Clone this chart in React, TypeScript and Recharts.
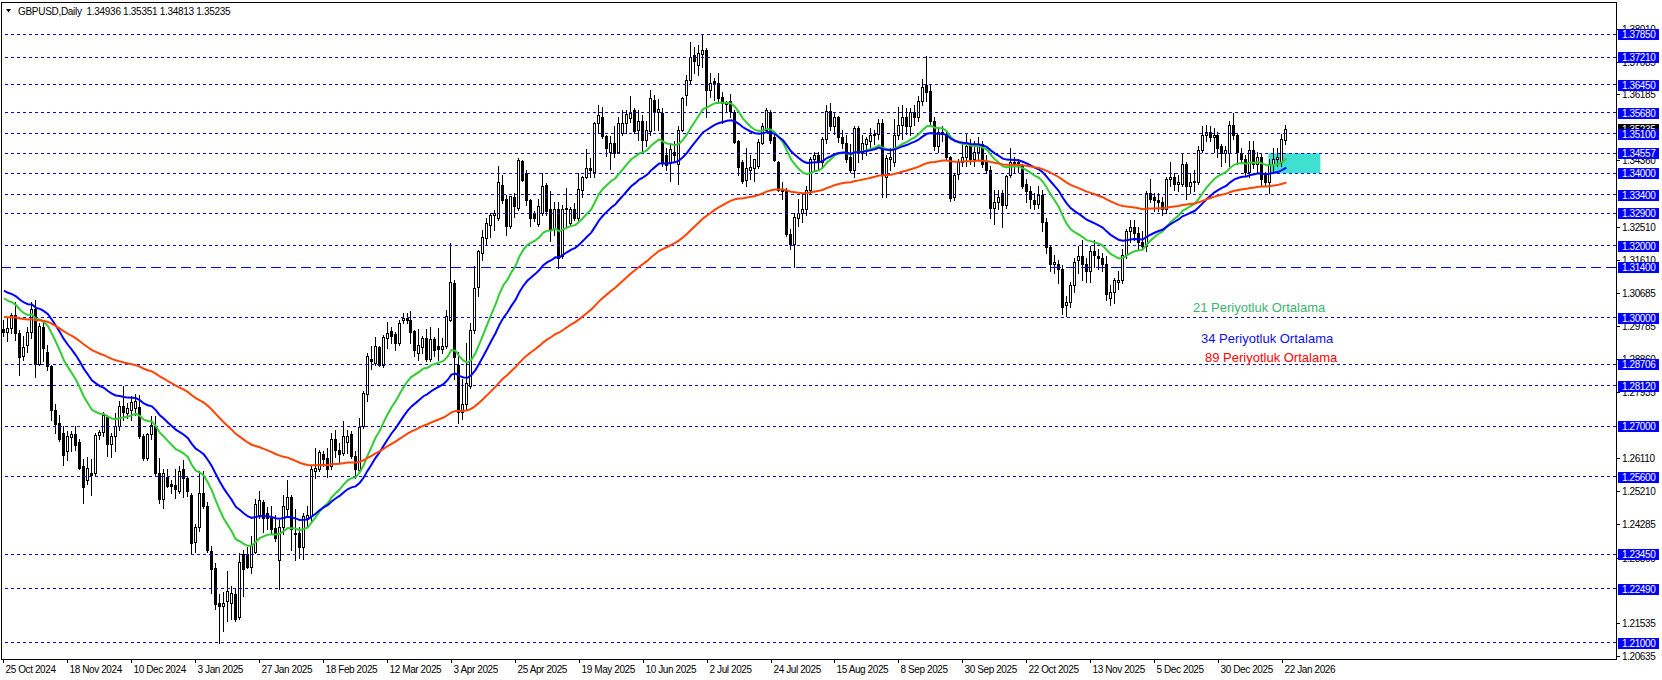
import React from "react";
import { ComposedChart, Bar, Line, XAxis, YAxis, ReferenceLine, ReferenceArea } from "recharts";

// ---------------- data ----------------
const symbolName = "GBPUSD,Daily";

const opens = [
  1.2970,1.2960,1.2972,1.3009,1.2958,1.2895,1.2925,1.2960,1.3025,1.2873,
  1.2975,1.2905,1.2866,1.2745,1.2709,1.2680,1.2630,1.2670,1.2677,1.2655,
  1.2590,1.2550,1.2570,1.2570,1.2674,1.2685,1.2725,1.2650,1.2672,1.2700,
  1.2757,1.2735,1.2745,1.2750,1.2752,1.2672,1.2613,1.2677,1.2700,1.2570,
  1.2497,1.2560,1.2540,1.2538,1.2520,1.2580,1.2555,1.2510,1.2378,1.2420,
  1.2515,1.2480,1.2355,1.2306,1.2210,1.2203,1.2215,1.2210,1.2235,1.2170,
  1.2345,1.2346,1.2311,1.2350,1.2455,1.2490,1.2460,1.2446,1.2418,1.2330,
  1.2420,1.2470,1.2505,1.2400,1.2405,1.2365,1.2445,1.2450,1.2575,1.2580,
  1.2622,1.2612,1.2590,1.2665,1.2635,1.2625,1.2656,1.2677,1.2617,1.2578,
  1.2700,1.2790,1.2887,1.2875,1.2918,1.2870,1.2944,1.2962,1.2955,1.2930,
  1.2993,1.2998,1.2994,1.2962,1.2903,1.2920,1.2945,1.2885,1.2940,1.2922,
  1.2913,1.2921,1.2995,1.3095,1.2870,1.2740,1.2760,1.2810,1.2965,1.3085,
  1.3180,1.3222,1.3258,1.3285,1.3276,1.3368,1.3330,1.3253,1.3335,1.3305,
  1.3434,1.3400,1.3325,1.3290,1.3260,1.3290,1.3368,1.3300,1.3245,1.3300,
  1.3170,1.3305,1.3262,1.3300,1.3276,1.3354,1.3391,1.3416,1.3405,1.3539,
  1.3557,1.3502,1.3460,1.3483,1.3460,1.3511,1.3539,1.3553,1.3576,1.3520,
  1.3546,1.3493,1.3518,1.3602,1.3570,1.3566,1.3450,1.3428,1.3460,1.3425,
  1.3520,1.3617,1.3659,1.3728,1.3700,1.3730,1.3742,1.3632,1.3655,1.3650,
  1.3610,1.3592,1.3600,1.3570,1.3490,1.3430,1.3382,1.3410,1.3415,1.3420,
  1.3485,1.3520,1.3570,1.3500,1.3430,1.3355,1.3350,1.3232,1.3205,1.3275,
  1.3290,1.3300,1.3355,1.3440,1.3450,1.3430,1.3495,1.3573,1.3530,1.3555,
  1.3500,1.3485,1.3445,1.3410,1.3525,1.3455,1.3480,1.3490,1.3505,1.3510,
  1.3540,1.3390,1.3440,1.3430,1.3505,1.3535,1.3555,1.3530,1.3570,1.3555,
  1.3600,1.3645,1.3628,1.3545,1.3475,1.3515,1.3510,1.3445,1.3335,1.3398,
  1.3430,1.3445,1.3475,1.3440,1.3460,1.3480,1.3430,1.3410,1.3305,1.3320,
  1.3345,1.3313,1.3395,1.3430,1.3430,1.3420,1.3370,1.3350,1.3325,1.3315,
  1.3340,1.3265,1.3195,1.3150,1.3150,1.3135,1.3035,1.3045,1.3090,1.3160,
  1.3170,1.3150,1.3130,1.3185,1.3170,1.3165,1.3150,1.3055,1.3070,1.3100,
  1.3105,1.3175,1.3240,1.3250,1.3235,1.3210,1.3200,1.3345,1.3335,1.3325,
  1.3320,1.3300,1.3385,1.3390,1.3370,1.3370,1.3425,1.3365,1.3380,1.3375,
  1.3465,1.3505,1.3515,1.3500,1.3505,1.3475,1.3455,1.3455,1.3535,1.3505,
  1.3455,1.3440,1.3405,1.3465,1.3425,1.3445,1.3400,1.3375,1.3425,1.3440,
  1.3430,1.34936,
];

const highs = [
  1.2995,1.2999,1.3013,1.3043,1.2965,1.2950,1.2975,1.3045,1.3050,1.2985,
  1.2990,1.2925,1.2870,1.2760,1.2730,1.2700,1.2686,1.2686,1.2700,1.2665,
  1.2610,1.2615,1.2610,1.2680,1.2690,1.2740,1.2730,1.2681,1.2735,1.2769,
  1.2810,1.2764,1.2783,1.2790,1.2787,1.2677,1.2681,1.2727,1.2727,1.2612,
  1.2580,1.2580,1.2552,1.2580,1.2590,1.2605,1.2562,1.2515,1.2430,1.2575,
  1.2576,1.2490,1.2368,1.2322,1.2236,1.2240,1.2300,1.2257,1.2248,1.2349,
  1.2357,1.2364,1.2395,1.2497,1.2520,1.2495,1.2475,1.2478,1.2455,1.2440,
  1.2510,1.2550,1.2510,1.2470,1.2420,1.2460,1.2480,1.2590,1.2640,1.2635,
  1.2630,1.2640,1.2680,1.2690,1.2652,1.2713,1.2690,1.2686,1.2630,1.2722,
  1.2797,1.2903,1.2921,1.2947,1.2921,1.2953,1.2987,1.2975,1.2960,1.2995,
  1.3013,1.3013,1.3018,1.2967,1.2970,1.2950,1.2970,1.2975,1.2946,1.2972,
  1.2944,1.3022,1.3207,1.3105,1.2905,1.2830,1.2930,1.2985,1.3142,1.3188,
  1.3244,1.3276,1.3290,1.3299,1.3420,1.3396,1.3340,1.3338,1.3345,1.3442,
  1.3437,1.3410,1.3328,1.3295,1.3330,1.3400,1.3373,1.3350,1.3320,1.3320,
  1.3313,1.3358,1.3308,1.3318,1.3400,1.3393,1.3467,1.3442,1.3543,1.3590,
  1.3585,1.3506,1.3502,1.3530,1.3557,1.3576,1.3576,1.3613,1.3580,1.3576,
  1.3562,1.3545,1.3631,1.3617,1.3605,1.3580,1.3470,1.3480,1.3490,1.3530,
  1.3612,1.3672,1.3765,1.3751,1.3755,1.3786,1.3746,1.3677,1.3663,1.3677,
  1.3625,1.3600,1.3620,1.3575,1.3492,1.3438,1.3470,1.3450,1.3440,1.3495,
  1.3539,1.3580,1.3575,1.3506,1.3433,1.3375,1.3360,1.3245,1.3290,1.3330,
  1.3345,1.3365,1.3445,1.3460,1.3460,1.3500,1.3590,1.3595,1.3570,1.3560,
  1.3520,1.3505,1.3480,1.3530,1.3530,1.3505,1.3500,1.3525,1.3520,1.3550,
  1.3550,1.3450,1.3470,1.3550,1.3585,1.3590,1.3580,1.3580,1.3590,1.3615,
  1.3660,1.3726,1.3645,1.3555,1.3525,1.3530,1.3520,1.3447,1.3400,1.3440,
  1.3480,1.3510,1.3495,1.3490,1.3500,1.3490,1.3450,1.3420,1.3355,1.3355,
  1.3355,1.3395,1.3470,1.3445,1.3440,1.3425,1.3385,1.3365,1.3345,1.3365,
  1.3355,1.3275,1.3200,1.3175,1.3160,1.3145,1.3060,1.3100,1.3165,1.3200,
  1.3215,1.3165,1.3200,1.3215,1.3190,1.3180,1.3170,1.3090,1.3110,1.3130,
  1.3190,1.3245,1.3270,1.3270,1.3250,1.3240,1.3350,1.3385,1.3345,1.3345,
  1.3335,1.3390,1.3430,1.3400,1.3395,1.3455,1.3430,1.3400,1.3410,1.3475,
  1.3530,1.3535,1.3530,1.3525,1.3515,1.3480,1.3475,1.3545,1.3568,1.3510,
  1.3470,1.3450,1.3490,1.3490,1.3460,1.3455,1.3405,1.3440,1.3470,1.3470,
  1.3510,1.35351,
];

const lows = [
  1.2950,1.2935,1.2958,1.2938,1.2842,1.2883,1.2905,1.2945,1.2835,1.2870,
  1.2880,1.2856,1.2718,1.2682,1.2660,1.2593,1.2605,1.2630,1.2635,1.2580,
  1.2487,1.2540,1.2510,1.2565,1.2665,1.2672,1.2616,1.2615,1.2630,1.2690,
  1.2718,1.2723,1.2718,1.2730,1.2668,1.2607,1.2607,1.2663,1.2561,1.2487,
  1.2474,1.2530,1.2515,1.2502,1.2515,1.2505,1.2506,1.2349,1.2352,1.2410,
  1.2474,1.2350,1.2239,1.2193,1.2100,1.2133,1.2160,1.2165,1.2160,1.2165,
  1.2230,1.2308,1.2294,1.2349,1.2445,1.2408,1.2415,1.2405,1.2382,1.2250,
  1.2400,1.2450,1.2357,1.2330,1.2335,1.2333,1.2420,1.2435,1.2555,1.2575,
  1.2590,1.2560,1.2580,1.2615,1.2600,1.2620,1.2626,1.2612,1.2557,1.2573,
  1.2695,1.2770,1.2857,1.2868,1.2866,1.2865,1.2916,1.2930,1.2912,1.2925,
  1.2985,1.2985,1.2930,1.2893,1.2884,1.2903,1.2880,1.2880,1.2893,1.2883,
  1.2902,1.2916,1.2990,1.2830,1.2708,1.2720,1.2745,1.2805,1.2958,1.3060,
  1.3160,1.3202,1.3225,1.3244,1.3271,1.3317,1.3230,1.3248,1.3280,1.3299,
  1.3378,1.3313,1.3253,1.3267,1.3255,1.3285,1.3285,1.3212,1.3230,1.3139,
  1.3165,1.3250,1.3253,1.3271,1.3271,1.3334,1.3387,1.3389,1.3389,1.3511,
  1.3497,1.3447,1.3411,1.3445,1.3455,1.3507,1.3511,1.3543,1.3511,1.3493,
  1.3461,1.3475,1.3507,1.3520,1.3520,1.3420,1.3410,1.3380,1.3430,1.3370,
  1.3516,1.3590,1.3649,1.3677,1.3672,1.3695,1.3557,1.3612,1.3603,1.3594,
  1.3540,1.3570,1.3555,1.3484,1.3395,1.3373,1.3365,1.3385,1.3380,1.3415,
  1.3480,1.3515,1.3484,1.3433,1.3350,1.3330,1.3227,1.3190,1.3140,1.3255,
  1.3265,1.3285,1.3345,1.3410,1.3410,1.3420,1.3485,1.3520,1.3510,1.3487,
  1.3470,1.3430,1.3405,1.3390,1.3430,1.3440,1.3450,1.3470,1.3480,1.3495,
  1.3335,1.3335,1.3410,1.3420,1.3495,1.3495,1.3510,1.3505,1.3535,1.3545,
  1.3590,1.3600,1.3530,1.3465,1.3460,1.3490,1.3440,1.3322,1.3325,1.3385,
  1.3420,1.3420,1.3425,1.3420,1.3440,1.3418,1.3400,1.3275,1.3260,1.3300,
  1.3250,1.3305,1.3390,1.3405,1.3405,1.3360,1.3320,1.3305,1.3300,1.3305,
  1.3240,1.3180,1.3130,1.3125,1.3095,1.3010,1.3005,1.3030,1.3070,1.3125,
  1.3105,1.3100,1.3100,1.3140,1.3135,1.3130,1.3050,1.3035,1.3040,1.3080,
  1.3095,1.3165,1.3210,1.3215,1.3190,1.3190,1.3185,1.3320,1.3295,1.3295,
  1.3285,1.3290,1.3365,1.3355,1.3350,1.3365,1.3330,1.3345,1.3350,1.3370,
  1.3460,1.3490,1.3490,1.3460,1.3445,1.3420,1.3430,1.3420,1.3495,1.3425,
  1.3430,1.3395,1.3390,1.3415,1.3400,1.3365,1.3365,1.3345,1.3400,1.3420,
  1.3420,1.34813,
];

const closes = [
  1.2960,1.2972,1.3009,1.2958,1.2890,1.2919,1.2960,1.3025,1.2871,1.2978,
  1.2915,1.2866,1.2745,1.2705,1.2663,1.2621,1.2672,1.2677,1.2649,1.2585,
  1.2532,1.2585,1.2565,1.2675,1.2685,1.2730,1.2650,1.2672,1.2700,1.2755,
  1.2738,1.2750,1.2768,1.2770,1.2672,1.2613,1.2677,1.2704,1.2571,1.2497,
  1.2569,1.2534,1.2533,1.2525,1.2575,1.2555,1.2520,1.2377,1.2420,1.2515,
  1.2480,1.2358,1.2305,1.2207,1.2202,1.2211,1.2243,1.2237,1.2167,1.2325,
  1.2304,1.2311,1.2372,1.2483,1.2495,1.2446,1.2445,1.2414,1.2391,1.2420,
  1.2480,1.2505,1.2415,1.2405,1.2365,1.2450,1.2455,1.2580,1.2585,1.2627,
  1.2608,1.2580,1.2665,1.2635,1.2624,1.2672,1.2672,1.2617,1.2580,1.2698,
  1.2792,1.2893,1.2880,1.2921,1.2870,1.2948,1.2958,1.2950,1.2930,1.2985,
  1.3000,1.2993,1.2960,1.2912,1.2925,1.2945,1.2885,1.2940,1.2912,1.2913,
  1.2921,1.3004,1.3098,1.2890,1.2740,1.2760,1.2820,1.2965,1.3083,1.3184,
  1.3225,1.3262,1.3285,1.3290,1.3375,1.3327,1.3253,1.3336,1.3310,1.3437,
  1.3382,1.3327,1.3276,1.3275,1.3310,1.3364,1.3295,1.3245,1.3300,1.3165,
  1.3302,1.3300,1.3300,1.3276,1.3357,1.3389,1.3414,1.3410,1.3539,1.3562,
  1.3502,1.3470,1.3483,1.3455,1.3539,1.3539,1.3565,1.3567,1.3516,1.3546,
  1.3493,1.3520,1.3608,1.3571,1.3578,1.3428,1.3424,1.3467,1.3450,1.3520,
  1.3608,1.3659,1.3721,1.3710,1.3732,1.3742,1.3631,1.3650,1.3650,1.3608,
  1.3594,1.3597,1.3572,1.3488,1.3418,1.3380,1.3415,1.3418,1.3440,1.3488,
  1.3530,1.3575,1.3493,1.3437,1.3355,1.3350,1.3233,1.3205,1.3278,1.3290,
  1.3300,1.3355,1.3440,1.3450,1.3430,1.3495,1.3573,1.3530,1.3555,1.3500,
  1.3485,1.3440,1.3410,1.3525,1.3460,1.3485,1.3495,1.3505,1.3510,1.3540,
  1.3395,1.3442,1.3445,1.3505,1.3535,1.3555,1.3530,1.3570,1.3555,1.3600,
  1.3640,1.3625,1.3545,1.3475,1.3515,1.3510,1.3445,1.3333,1.3395,1.3430,
  1.3445,1.3475,1.3440,1.3460,1.3480,1.3425,1.3410,1.3305,1.3320,1.3335,
  1.3312,1.3393,1.3430,1.3430,1.3420,1.3365,1.3350,1.3330,1.3315,1.3340,
  1.3265,1.3195,1.3150,1.3155,1.3135,1.3030,1.3045,1.3090,1.3155,1.3170,
  1.3150,1.3130,1.3185,1.3175,1.3165,1.3150,1.3065,1.3070,1.3105,1.3105,
  1.3175,1.3240,1.3250,1.3235,1.3210,1.3200,1.3345,1.3330,1.3325,1.3320,
  1.3300,1.3385,1.3390,1.3370,1.3375,1.3425,1.3365,1.3375,1.3375,1.3465,
  1.3505,1.3515,1.3500,1.3505,1.3470,1.3455,1.3465,1.3535,1.3505,1.3460,
  1.3440,1.3405,1.3465,1.3425,1.3445,1.3385,1.3375,1.3425,1.3440,1.3445,
  1.3494,1.35235,
];

const dateLabels = [
  "25 Oct 2024", "18 Nov 2024", "10 Dec 2024", "3 Jan 2025", "27 Jan 2025", "18 Feb 2025",
  "12 Mar 2025", "3 Apr 2025", "25 Apr 2025", "19 May 2025", "10 Jun 2025", "2 Jul 2025",
  "24 Jul 2025", "15 Aug 2025", "8 Sep 2025", "30 Sep 2025", "22 Oct 2025", "13 Nov 2025",
  "5 Dec 2025", "30 Dec 2025", "22 Jan 2026",
];
const barsPerDateLabel = 16;

// price-scale labels that remain (at least partly) visible beside the level tags
const priceScaleTicks = [
  1.38010, 1.37085, 1.36185, 1.34360, 1.32510, 1.31610, 1.30685, 1.29785,
  1.28860, 1.27935, 1.26110, 1.25210, 1.24285, 1.23360, 1.21535, 1.20635,
];
const dottedLevels = [
  1.37850, 1.37210, 1.36450, 1.35680, 1.35100, 1.34557, 1.34000, 1.33400, 1.32900, 1.32000,
  1.30000, 1.28706, 1.28120, 1.27000, 1.25600, 1.23450, 1.22490, 1.21000,
];
const dashedLevels = [1.31400];

const zoneLow = 1.34000;
const zoneHigh = 1.34557;
const zoneFromBar = 317;
const zoneToBar = 329;

const maPeriods = [21, 34, 89];
const maStartValues = [1.3054, 1.3075, 1.3002];
const maColors = ["#32CD32", "#0000FF", "#FF4500"];
const maLegend = ["21 Periyotluk Ortalama", "34 Periyotluk Ortalama", "89 Periyotluk Ortalama"];
const maLegendColors = ["#3CB371", "#1010E8", "#FF0000"];

// ---------------- layout ----------------
const W = 1662;
const H = 680;
const TOTAL_SLOTS = 404;
const PRICE_MIN = 1.2055;
const PRICE_MAX = 1.38717;
const FONT = "'Liberation Sans', Arial, sans-serif";

const n = Math.min(opens.length, highs.length, lows.length, closes.length);

const emaSeries = (period: number, seed: number) => {
  const k = 2 / (period + 1);
  let v = seed;
  return closes.slice(0, n).map((c, idx) => {
    if (idx > 0) v = v + k * (c - v);
    return v;
  });
};
const maValues = maPeriods.map((p, k) => emaSeries(p, maStartValues[k]));

const data = Array.from({ length: TOTAL_SLOTS }, (_, i) => {
  if (i >= n) return { i };
  return {
    i,
    o: opens[i],
    h: highs[i],
    l: lows[i],
    c: closes[i],
    range: [lows[i], highs[i]],
    m0: maValues[0][i],
    m1: maValues[1][i],
    m2: maValues[2][i],
  };
});

const dateTickIdx = dateLabels.map((_, k) => k * barsPerDateLabel);

const levelSet = new Set([...dottedLevels, ...dashedLevels].map((v) => v.toFixed(5)));
const lastIdx = n - 1;
const currentPrice = closes[lastIdx];
const yTicks = [...priceScaleTicks, currentPrice, ...dottedLevels, ...dashedLevels];

const fmt5 = (v: number) => v.toFixed(5);

const Candle = (props: any) => {
  const { x, y, width, height, payload } = props;
  if (!payload || payload.o == null) return null;
  const top = Math.min(y, y + height);
  const bot = Math.max(y, y + height);
  const span = payload.h - payload.l;
  const ppu = span > 0 ? (bot - top) / span : 0;
  const py = (p: number) => top + (payload.h - p) * ppu;
  const cx = Math.floor(x + width / 2);
  const yo = py(payload.o);
  const yc = py(payload.c);
  const bTop = Math.round(Math.min(yo, yc));
  const bBot = Math.round(Math.max(yo, yc));
  const bull = payload.c >= payload.o;
  return (
    <g>
      <line x1={cx + 0.5} x2={cx + 0.5} y1={Math.round(top)} y2={Math.round(bot) + 1} stroke="#000" strokeWidth={1} shapeRendering="crispEdges" />
      {bull ? (
        <rect x={cx - 0.5} y={bTop + 0.5} width={2} height={Math.max(bBot - bTop, 1)} fill="#fff" stroke="#000" strokeWidth={1} shapeRendering="crispEdges" />
      ) : (
        <rect x={cx - 1} y={bTop} width={3} height={Math.max(bBot - bTop + 1, 1)} fill="#000" shapeRendering="crispEdges" />
      )}
    </g>
  );
};

const DateTick = (props: any) => {
  const { x, y, payload } = props;
  const idx = Number(payload.value);
  if (idx % barsPerDateLabel !== 0) return null;
  const label = dateLabels[idx / barsPerDateLabel];
  if (!label) return null;
  const tx = Math.floor(x) + 0.5;
  return (
    <g>
      <line x1={tx} x2={tx} y1={y} y2={y + 4} stroke="#000" strokeWidth={1} shapeRendering="crispEdges" />
      <text x={tx + 2} y={y + 14} fontSize={10} fontFamily={FONT} letterSpacing={-0.4} fill="#000" textAnchor="start">
        {label}
      </text>
    </g>
  );
};

const PriceTick = (props: any) => {
  const { x, y, payload } = props;
  const v = Number(payload.value);
  const yy = Math.round(y);
  const key = v.toFixed(5);
  const isLevel = levelSet.has(key);
  const isCurrent = !isLevel && Math.abs(v - currentPrice) < 1e-9;
  if (isLevel || isCurrent) {
    return (
      <g>
        <rect x={x + 2} y={yy - 5} width={41} height={11} fill={isLevel ? "#0000FF" : "#000"} />
        <text x={x + 6} y={yy + 4} fontSize={10} fontFamily={FONT} letterSpacing={-0.4} fill="#fff" textAnchor="start">
          {fmt5(v)}
        </text>
      </g>
    );
  }
  return (
    <g>
      <line x1={x} x2={x + 4} y1={yy + 0.5} y2={yy + 0.5} stroke="#000" strokeWidth={1} shapeRendering="crispEdges" />
      <text x={x + 6} y={yy + 4} fontSize={10} fontFamily={FONT} letterSpacing={-0.4} fill="#000" textAnchor="start">
        {fmt5(v)}
      </text>
    </g>
  );
};

const titleText =
  symbolName + "  " + [opens[lastIdx], highs[lastIdx], lows[lastIdx], closes[lastIdx]].map(fmt5).join(" ");

const legendPos = [
  { x: 1193, y: 312 },
  { x: 1201, y: 343 },
  { x: 1205, y: 362 },
];

export default function App() {
  return (
    <div style={{ position: "relative", width: W, height: H, background: "#fff" }}>
      <style>{"body{margin:0;background:#fff}"}</style>
      <ComposedChart
        width={W}
        height={H}
        data={data}
        margin={{ top: 3, right: 0, bottom: 0, left: 2 }}
        barCategoryGap={0}
      >
        <XAxis
          dataKey="i"
          type="category"
          height={21}
          ticks={dateTickIdx}
          interval={0}
          tickSize={0}
          tickMargin={0}
          axisLine={false}
          tickLine={false}
          tick={<DateTick />}
        />
        <YAxis
          orientation="right"
          type="number"
          width={46}
          domain={[PRICE_MIN, PRICE_MAX]}
          allowDataOverflow
          ticks={yTicks}
          interval={0}
          tickSize={0}
          tickMargin={0}
          axisLine={false}
          tickLine={false}
          tick={<PriceTick />}
        />
        <ReferenceArea
          x1={zoneFromBar}
          x2={zoneToBar}
          y1={zoneLow}
          y2={zoneHigh}
          fill="#40E0D0"
          fillOpacity={1}
          stroke="none"
          ifOverflow="visible"
        />
        {dottedLevels.map((v) => (
          <ReferenceLine key={"d" + v} y={v} stroke="#0000FF" strokeWidth={1} strokeDasharray="3 3" shapeRendering="crispEdges" />
        ))}
        {dashedLevels.map((v) => (
          <ReferenceLine key={"l" + v} y={v} stroke="#0000FF" strokeWidth={1} strokeDasharray="10 5" shapeRendering="crispEdges" />
        ))}
        <Bar dataKey="range" barSize={3} shape={<Candle />} isAnimationActive={false} />
        {maPeriods.map((p, k) => (
          <Line
            key={"ma" + p}
            type="linear"
            dataKey={"m" + k}
            stroke={maColors[k]}
            strokeWidth={2}
            dot={false}
            activeDot={false}
            isAnimationActive={false}
          />
        ))}
      </ComposedChart>
      <svg
        width={W}
        height={H}
        style={{ position: "absolute", left: 0, top: 0, pointerEvents: "none" }}
      >
        <rect x={1.5} y={2.5} width={1615} height={657} fill="none" stroke="#000" strokeWidth={1} shapeRendering="crispEdges" />
        <polygon points="6,9 11,9 8.5,12.5" fill="#000" />
        <text x={18} y={15} fontSize={10} fontFamily={FONT} letterSpacing={-0.3} fill="#000" style={{ whiteSpace: "pre" }}>
          {titleText}
        </text>
        {maLegend.map((t, k) => (
          <text key={t} x={legendPos[k].x} y={legendPos[k].y} fontSize={13} fontFamily={FONT} fill={maLegendColors[k]}>
            {t}
          </text>
        ))}
      </svg>
    </div>
  );
}
